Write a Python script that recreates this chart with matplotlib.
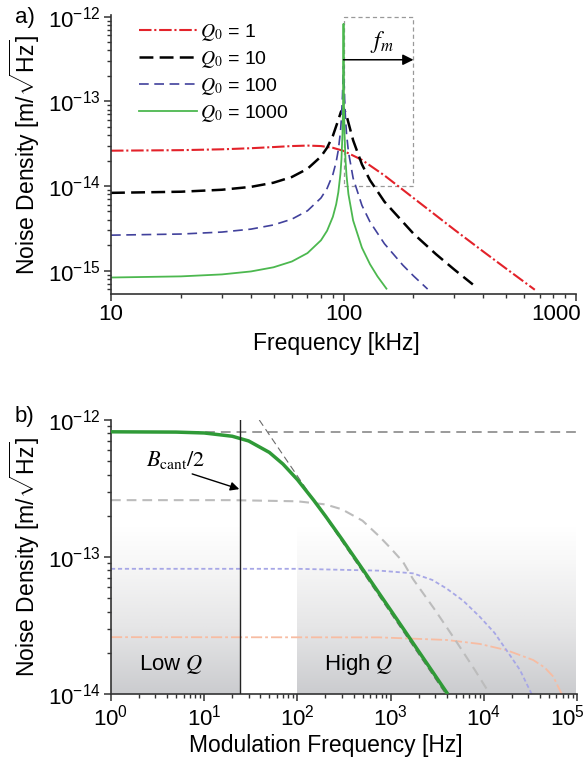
import numpy as np
import matplotlib
matplotlib.use("Agg")
import matplotlib.pyplot as plt
import matplotlib.transforms as mtransforms
from matplotlib.colors import LinearSegmentedColormap
from matplotlib.font_manager import FontProperties
from matplotlib.patches import Rectangle
from matplotlib.ticker import (LogLocator, NullFormatter, FixedLocator, FixedFormatter,
                               LogFormatterMathtext)

plt.rcParams['font.family'] = ['Liberation Sans', 'DejaVu Sans']
plt.rcParams['mathtext.fontset'] = 'custom'
plt.rcParams['mathtext.rm'] = 'Liberation Sans'
plt.rcParams['mathtext.it'] = 'Liberation Sans:italic'
plt.rcParams['mathtext.bf'] = 'Liberation Sans:bold'
plt.rcParams['lines.scale_dashes'] = False

# ---------------- Panel a data (frequency in kHz, noise density m/sqrt(Hz)) -------------
q_labels = [r'$Q_{\mathit{0}}$ = 1', r'$Q_{\mathit{0}}$ = 10',
            r'$Q_{\mathit{0}}$ = 100', r'$Q_{\mathit{0}}$ = 1000']

f_q1 = [10, 20, 30, 40, 50, 60, 70, 80, 90, 100, 120, 150, 200, 300, 400, 500, 665]
n_q1 = [2.613e-14, 2.651e-14, 2.713e-14, 2.795e-14, 2.884e-14, 2.964e-14, 3.002e-14,
        2.964e-14, 2.827e-14, 2.600e-14, 2.034e-14, 1.332e-14, 7.21e-15, 3.043e-15,
        1.675e-15, 1.060e-15, 5.95e-16]

f_q10 = [10, 20, 30, 40, 50, 60, 70, 80, 85, 90, 95, 97.5, 100, 102.5, 105, 110, 120,
         130, 150, 200, 250, 300, 360]
n_q10 = [8.30e-15, 8.56e-15, 9.03e-15, 9.77e-15, 1.094e-14, 1.279e-14, 1.597e-14,
         2.229e-14, 2.832e-14, 3.910e-14, 6.04e-14, 7.52e-14, 8.22e-14, 7.19e-14,
         5.60e-14, 3.467e-14, 1.802e-14, 1.171e-14, 6.53e-15, 2.734e-15, 1.564e-15,
         1.027e-15, 6.87e-16]

f_q100 = [10, 20, 30, 40, 50, 60, 70, 80, 85, 90, 93, 95, 97, 98, 99, 99.5, 100,
          100.5, 101, 102, 103, 105, 110, 120, 130, 150, 180, 200, 230]
n_q100 = [2.626e-15, 2.708e-15, 2.857e-15, 3.095e-15, 3.467e-15, 4.063e-15, 5.098e-15,
          7.22e-15, 9.37e-15, 1.368e-14, 1.924e-14, 2.667e-14, 4.34e-14, 6.37e-14,
          1.170e-13, 1.845e-13, 2.60e-13, 1.832e-13, 1.156e-13, 6.24e-14, 4.21e-14,
          2.537e-14, 1.238e-14, 5.91e-15, 3.768e-15, 2.08e-15, 1.161e-15, 8.67e-16,
          6.06e-16]

f_q1000 = [10, 20, 30, 40, 50, 60, 70, 80, 85, 90, 93, 95, 97, 98, 99, 99.5, 99.8,
           99.9, 99.95, 100, 100.05, 100.1, 100.2, 100.5, 101, 102, 103, 105, 110, 120,
           130, 140, 153]
n_q1000 = [8.30e-16, 8.56e-16, 9.03e-16, 9.79e-16, 1.096e-15, 1.284e-15, 1.612e-15,
           2.283e-15, 2.962e-15, 4.33e-15, 6.08e-15, 8.43e-15, 1.391e-14, 2.076e-14,
           4.13e-14, 8.24e-14, 1.995e-13, 3.678e-13, 5.81e-13, 8.22e-13, 5.81e-13,
           3.674e-13, 1.992e-13, 8.20e-14, 4.09e-14, 2.035e-14, 1.350e-14, 8.02e-15,
           3.914e-15, 1.868e-15, 1.191e-15, 8.56e-16, 6.13e-16]

fm_box_f = [100, 200]
fm_box_n = [1e-14, 1e-12]
fm_arrow_n = 3.1e-13

a_xticks = [10, 100, 1000]
a_xticklabels = ['10', '100', '1000']
a_yticks = [1e-15, 1e-14, 1e-13, 1e-12]

# ---------------- Panel b data (modulation frequency in Hz) -------------
g_f = [1, 5, 10, 20, 30, 50, 70, 100, 150, 200, 300, 500, 1000, 2000, 4100]
g_n = [8.2e-13, 8.16e-13, 8.04e-13, 7.61e-13, 7.03e-13, 5.80e-13, 4.77e-13, 3.67e-13,
       2.59e-13, 1.99e-13, 1.35e-13, 8.16e-14, 4.10e-14, 2.05e-14, 1.0e-14]

flat_f = [1, 1e5]
flat_n = [8.2e-13, 8.2e-13]

asym_f = [39, 3900]
asym_n = [1e-12, 1e-14]

q100_f = [1, 20, 100, 200, 300, 500, 760, 1000, 1360, 1740, 3000, 5000, 8000, 11600]
q100_n = [2.6e-13, 2.6e-13, 2.55e-13, 2.42e-13, 2.23e-13, 1.84e-13, 1.41e-13, 1.16e-13,
          9.2e-14, 6.9e-14, 4.1e-14, 2.45e-14, 1.5e-14, 1.0e-14]

q10_f = [1, 100, 760, 1740, 2800, 3970, 6000, 9060, 13000, 17500, 24400, 32600]
q10_n = [8.2e-14, 8.2e-14, 7.95e-14, 7.6e-14, 6.8e-14, 5.9e-14, 4.8e-14, 3.66e-14,
         2.8e-14, 2.09e-14, 1.5e-14, 1.0e-14]

q1_f = [1, 760, 3970, 9060, 17500, 33900, 45000, 55600, 68500]
q1_n = [2.6e-14, 2.59e-14, 2.48e-14, 2.32e-14, 2.09e-14, 1.77e-14, 1.56e-14, 1.34e-14,
        1.0e-14]

b_cant_half = 24.4
low_q_span = [1, 24.4]
high_q_span = [100, 1e5]
shade_bottom = 1e-14
shade_top = 1.66e-13

b_xticks = [1, 10, 100, 1e3, 1e4, 1e5]
b_yticks = [1e-14, 1e-13, 1e-12]

# ---------------- Figure ----------------
W, H = 584, 765
fig = plt.figure(figsize=(W / 100, H / 100), dpi=100)

def frac(x0, x1, ytop, ybot):
    return [x0 / W, 1 - ybot / H, (x1 - x0) / W, (ybot - ytop) / H]

ax1 = fig.add_axes(frac(111, 576, 14.9, 294))
ax2 = fig.add_axes(frac(111, 577, 420, 694))

spine_c = '#333333'
for ax in (ax1, ax2):
    ax.set_xscale('log')
    ax.set_yscale('log')
    for s in ('top', 'right'):
        ax.spines[s].set_visible(False)
    for s in ('left', 'bottom'):
        ax.spines[s].set_color(spine_c)
        ax.spines[s].set_linewidth(1.2)
    ax.tick_params(which='major', direction='out', length=5, width=1.1, color=spine_c,
                   labelsize=16, pad=2.5)
    ax.tick_params(which='minor', direction='out', length=2.8, width=1.0, color=spine_c)
    ax.xaxis.set_minor_formatter(NullFormatter())
    ax.yaxis.set_minor_formatter(NullFormatter())
    ax.yaxis.set_minor_locator(LogLocator(base=10, subs=np.arange(2, 10), numticks=50))
    ax.xaxis.set_minor_locator(LogLocator(base=10, subs=np.arange(2, 10), numticks=50))
    ax.patch.set_alpha(0)

# Panel a
ax1.set_xlim(10, 1000)
ax1.set_ylim(5.3e-16, 1.05e-12)
ax1.plot(f_q1, n_q1, color='#e3222a', lw=1.5, dashes=(9, 2, 1.5, 2), label=q_labels[0])
ax1.plot(f_q10, n_q10, color='black', lw=1.8, dashes=(10, 4.5), label=q_labels[1])
ax1.plot(f_q100, n_q100, color='#41419c', lw=1.2, dashes=(7, 4), label=q_labels[2])
ax1.plot(f_q1000, n_q1000, color='#4cb84f', lw=1.3, label=q_labels[3])
ax1.add_patch(Rectangle((fm_box_f[0], fm_box_n[0]), fm_box_f[1] - fm_box_f[0],
                        fm_box_n[1] - fm_box_n[0], fill=False, ec='#999999', lw=0.9,
                        ls=(0, (3, 2.2)), zorder=1))
ax1.annotate('', xy=(fm_box_f[1], fm_arrow_n), xytext=(fm_box_f[0], fm_arrow_n),
             arrowprops=dict(arrowstyle='-|>', color='black', lw=1.1, mutation_scale=16,
                             shrinkA=0, shrinkB=0))
ax1.text(146, 5.0e-13, r'$f_m$', fontsize=17, math_fontfamily='stix', ha='center',
         va='center')
ax1.xaxis.set_major_locator(FixedLocator(a_xticks))
ax1.xaxis.set_major_formatter(FixedFormatter(a_xticklabels))
ax1.yaxis.set_major_locator(FixedLocator(a_yticks))
ax1.yaxis.set_major_formatter(LogFormatterMathtext())
ax1.set_xlabel('Frequency [kHz]', fontsize=16.5, labelpad=4)
ax1.xaxis.set_label_coords(0.485, -0.135)
ax1.set_ylabel(r'Noise Density [m/$\sqrt{\mathrm{Hz}}$]', fontsize=16.5, labelpad=4)

legprop = FontProperties(family='Liberation Sans', size=14, math_fontfamily='stix')
ax1.legend(loc='upper left', bbox_to_anchor=(139 / W, 1 - 22 / H),
           bbox_transform=fig.transFigure, frameon=False, prop=legprop,
           handlelength=3.0, handletextpad=0.15, labelspacing=0.3, borderpad=0,
           borderaxespad=0)

# Panel b
ax2.set_xlim(1, 1e5)
ax2.set_ylim(1e-14, 1e-12)
cmap = LinearSegmentedColormap.from_list(
    'shade', [(0.0, '#ffffff'), (0.2, '#f8f8f8'), (0.6, '#e6e6e7'), (1.0, '#cbcccf')])
# image rows are resampled linearly in data space, so build a gradient that is
# linear in log space (i.e. linear on screen)
rows = np.linspace(shade_bottom, shade_top, 2048)
lr = (np.log10(rows) - np.log10(shade_bottom)) / (np.log10(shade_top) - np.log10(shade_bottom))
grad = (1 - lr).reshape(-1, 1)
for span in (low_q_span, high_q_span):
    ax2.imshow(grad, cmap=cmap, vmin=0, vmax=1, origin='lower', aspect='auto',
               interpolation='bilinear',
               extent=[span[0], span[1], shade_bottom, shade_top], zorder=0)
ax2.set_xlim(1, 1e5)
ax2.set_ylim(1e-14, 1e-12)
ax2.xaxis.set_major_locator(FixedLocator(b_xticks))
ax2.xaxis.set_major_formatter(LogFormatterMathtext())
ax2.yaxis.set_major_locator(FixedLocator(b_yticks))
ax2.yaxis.set_major_formatter(LogFormatterMathtext())

ax2.plot(q1_f, q1_n, color='#f7bca2', lw=1.3, dashes=(8, 2.2, 2, 2.2), zorder=2)
ax2.plot(q10_f, q10_n, color='#a7a7e6', lw=1.3, dashes=(3, 2), zorder=2)
ax2.plot(q100_f, q100_n, color='#bcbcbc', lw=1.5, dashes=(7, 4.3), zorder=2)
ax2.plot(flat_f, flat_n, color='#7f7f7f', lw=1.1, dashes=(7, 4.3), zorder=2)
ax2.plot(asym_f, asym_n, color='#6a6a6a', lw=0.8, dashes=(5, 3), zorder=2)
ax2.plot(g_f, g_n, color='#2f9a37', lw=2.5, zorder=3, solid_capstyle='butt')
ax2.axvline(b_cant_half, color='#222222', lw=1.0, zorder=4)

ax2.text(2.38, 5.1e-13, r'$B_{\mathrm{cant}}/2$', fontsize=16, math_fontfamily='stix',
         ha='left', va='center')
ax2.annotate('', xy=(23.8, 3.13e-13), xytext=(7.43, 4.04e-13),
             arrowprops=dict(arrowstyle='-|>', color='black', lw=1.0, mutation_scale=13,
                             shrinkA=0, shrinkB=0))
ax2.text(2.0, 1.63e-14, r'Low $Q$', fontsize=16, math_fontfamily='stix', ha='left',
         va='center')
ax2.text(195, 1.63e-14, r'High $Q$', fontsize=16, math_fontfamily='stix', ha='left',
         va='center')
ax2.set_xlabel('Modulation Frequency [Hz]', fontsize=16.5)
ax2.xaxis.set_label_coords(0.46, -0.145)
ax2.set_ylabel(r'Noise Density [m/$\sqrt{\mathrm{Hz}}$]', fontsize=16.5, labelpad=4)

fig.text(15 / W, 1 - 17 / H, 'a)', fontsize=16, va='center', ha='left')
fig.text(15 / W, 1 - 417 / H, 'b)', fontsize=16, va='center', ha='left')

# shift the last x tick label of each panel left so it stays inside the figure
fig.canvas.draw()
for ax, target, shift_px in ((ax1, 1000, -19.5), (ax2, 1e5, -10)):
    for t in ax.xaxis.get_major_ticks():
        if np.isclose(t.get_loc(), target, rtol=1e-6):
            t.label1.set_transform(t.label1.get_transform() +
                                   mtransforms.ScaledTranslation(shift_px / 100, 0,
                                                                 fig.dpi_scale_trans))

fig.savefig('out.png', dpi=100)
